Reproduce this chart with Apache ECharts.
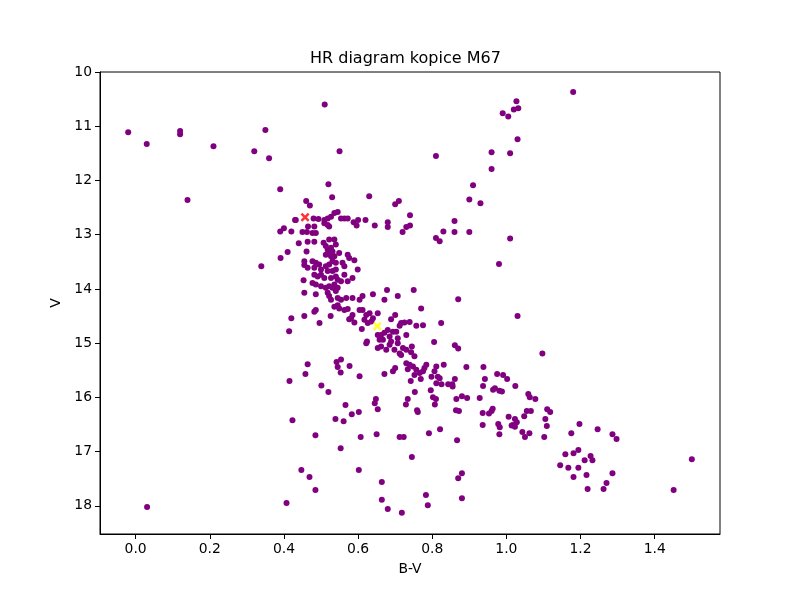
<!DOCTYPE html>
<html>
<head>
<meta charset="utf-8">
<script src="https://cdn.jsdelivr.net/npm/echarts@6/dist/echarts.min.js"></script>
<style>html,body{margin:0;padding:0;background:#fff;}#chart{width:800px;height:600px;}</style>
</head>
<body>
<div id="chart"></div>
<script>
const titleText = "HR diagram kopice M67";
const xName = "B-V";
const yName = "V";
const xTicks = [0.0, 0.2, 0.4, 0.6, 0.8, 1.0, 1.2, 1.4];
const yTicks = [10, 11, 12, 13, 14, 15, 16, 17, 18];

const bv = [
-0.02,0.03,0.12,0.12,0.21,0.35,0.32,0.36,0.39,0.14,0.43,0.40,0.39,0.42,0.44,0.41,
0.51,0.55,0.81,0.96,0.96,0.52,0.53,0.46,0.47,0.63,0.71,0.70,0.91,0.90,0.93,
0.74,0.68,0.68,0.74,0.73,0.72,0.645,0.62,0.60,0.596,0.588,0.86,0.83,0.86,0.90,0.81,0.82,
1.18,1.027,1.02,1.032,0.99,1.005,1.03,1.01,1.01,0.98,0.87,0.77,1.03,0.775,0.824,0.805,0.861,0.87,1.097,
0.432,0.48,0.493,0.509,0.518,0.527,0.536,0.545,0.509,0.518,0.522,0.554,0.563,0.572,
0.465,0.482,0.45,0.462,0.477,0.486,0.464,0.482,0.461,
0.507,0.522,0.536,0.54,0.513,0.518,0.527,0.531,0.522,0.513,0.527,0.536,0.549,0.572,0.576,0.59,
0.455,0.455,0.477,0.486,0.495,0.482,0.50,0.513,0.522,0.531,0.54,0.518,0.531,0.54,0.558,0.563,0.599,0.464,
0.482,0.491,0.50,0.509,0.527,0.54,0.545,0.554,0.563,0.572,0.585,
0.453,0.477,0.486,0.50,0.513,0.522,0.531,0.536,0.545,0.54,
0.455,0.486,0.518,0.522,0.527,0.545,0.554,0.568,0.585,0.604,0.612,0.64,
0.486,0.482,0.455,0.42,0.496,0.526,0.414,0.585,0.581,0.576,0.59,0.604,0.612,0.622,0.631,0.617,0.626,0.636,0.64,0.653,
0.61,0.624,0.622,0.554,0.653,0.658,0.545,0.536,0.549,0.563,0.572,
0.678,0.75,0.707,0.671,0.70,0.689,0.716,0.725,0.712,0.739,0.757,
0.68,0.671,0.662,0.667,0.685,0.694,0.703,0.689,0.685,0.707,0.707,0.73,0.721,0.73,0.662,0.653,0.676,0.698,0.712,0.716,
0.745,0.743,0.752,0.73,0.739,0.734,0.748,0.757,0.752,0.766,0.784,0.779,0.775,0.798,0.811,0.806,0.831,0.815,
0.892,0.70,0.694,0.671,0.938,0.861,
0.975,0.991,1.002,0.942,0.937,1.024,0.969,0.964,0.981,0.988,1.059,1.063,1.078,0.928,0.963,0.96,0.953,0.936,
1.055,1.066,1.11,1.118,1.048,1.006,1.023,1.028,1.018,1.023,1.014,1.105,1.109,0.978,0.982,0.936,1.197,1.246,
1.043,1.062,1.05,0.981,1.102,1.175,1.286,1.297,1.159,1.181,1.194,1.227,1.232,1.211,1.145,1.167,1.194,1.181,
1.216,1.286,1.27,1.219,1.262,1.451,1.50,
0.464,0.458,0.415,0.501,0.52,0.542,0.545,0.553,0.577,0.604,0.566,0.583,0.602,0.539,0.561,0.423,0.485,0.607,
0.553,0.65,0.712,0.723,0.791,0.821,0.867,0.745,0.447,0.469,0.485,0.407,0.602,0.664,0.664,0.68,0.718,0.783,
0.788,0.88,0.87,0.88,0.648,0.645,0.653,0.734,0.729,0.759,0.761,0.753,0.742,0.796,0.802,0.81,0.807,0.769,
0.865,0.88,0.894,0.864,0.872,0.811,0.825,0.843,0.854,0.855,0.82,0.391,0.339,0.031
];
const vmag = [
11.11,11.33,11.09,11.15,11.37,11.07,11.46,11.59,12.16,12.36,12.73,12.88,12.94,12.94,13.16,13.32,
10.60,11.46,11.55,11.48,11.79,12.07,12.31,12.38,12.46,12.29,12.38,12.44,12.09,12.35,12.42,
12.64,12.77,12.86,12.83,12.86,12.95,12.83,12.73,12.73,12.83,12.77,12.75,12.94,12.95,12.95,13.06,13.12,
10.37,10.54,10.69,10.67,10.76,10.82,11.24,11.50,13.07,13.54,14.19,14.36,14.50,14.67,14.63,14.98,15.04,15.10,15.19,
12.73,12.70,12.71,12.73,12.70,12.67,12.60,12.58,12.79,12.82,12.85,12.70,12.70,12.70,
12.85,12.85,12.95,12.95,12.97,12.97,13.13,13.13,13.31,
13.15,13.09,13.09,13.18,13.21,13.28,13.24,13.31,13.34,13.37,13.40,13.40,13.34,13.37,13.43,13.47,
13.49,13.56,13.49,13.52,13.55,13.61,13.64,13.58,13.55,13.49,13.52,13.67,13.67,13.64,13.52,13.58,13.64,13.61,
13.74,13.77,13.74,13.80,13.80,13.77,13.83,13.86,13.74,13.86,13.80,
13.84,13.89,13.92,13.95,13.98,13.95,13.98,13.92,13.98,14.04,
14.07,14.10,14.07,14.13,14.20,14.17,14.20,14.17,14.17,14.20,14.13,14.10,
14.39,14.42,14.50,14.54,14.63,14.50,14.78,14.48,14.54,14.56,14.62,14.39,14.39,14.48,14.45,14.57,14.63,14.60,14.54,14.45,
14.74,14.97,15.00,15.30,14.85,14.94,14.30,14.33,14.36,14.39,14.37,
14.02,14.02,14.13,14.20,14.48,14.56,14.63,14.62,14.68,14.61,14.68,
14.76,14.81,14.85,14.94,14.88,14.79,14.79,14.97,15.03,14.91,15.00,14.85,15.09,15.12,15.06,15.09,15.12,15.12,15.19,15.22,
15.06,15.17,15.24,15.37,15.40,15.48,15.43,15.49,15.59,15.55,15.40,15.46,15.52,15.62,15.43,15.52,15.40,15.62,
15.44,15.46,15.52,15.57,15.44,15.66,
15.57,15.59,15.66,15.66,15.79,15.79,15.83,15.86,15.88,15.89,15.94,16.00,16.03,16.01,16.21,16.25,16.30,16.29,
16.25,16.25,16.22,16.27,16.35,16.36,16.40,16.46,16.51,16.54,16.52,16.40,16.53,16.49,16.55,16.51,16.49,16.59,
16.64,16.66,16.73,16.68,16.73,16.66,16.68,16.77,17.05,17.03,16.97,17.08,17.16,17.16,17.25,17.30,17.30,17.47,
17.43,17.40,17.58,17.69,17.69,17.71,17.14,
15.39,15.57,15.70,15.78,15.90,15.35,15.44,15.54,15.42,15.61,16.14,16.31,16.27,16.40,16.44,16.42,16.70,16.73,
16.94,16.68,16.73,16.73,16.66,16.59,16.79,17.10,17.34,17.47,17.71,17.95,17.34,17.56,17.89,18.06,18.13,17.80,
17.99,17.40,17.49,17.86,16.03,16.11,16.22,16.03,16.13,16.24,16.27,15.90,15.70,15.87,16.00,16.03,16.13,15.66,
16.03,15.98,16.01,16.24,16.25,15.74,15.76,15.76,15.76,15.80,15.65,13.43,13.58,18.02
];
const redStar = [0.457, 12.68];
const yellowStar = [0.652, 14.69];

const xMin = -0.096, xMax = 1.576;
const yMin = 10, yMax = 18.52;

const starData = bv.map((b, i) => [b, vmag[i]]);
const xPath = 'path://M0,2L2,0L5,3L8,0L10,2L7,5L10,8L8,10L5,7L2,10L0,8L3,5Z';
const font = 'DejaVu Sans';

const chart = echarts.init(document.getElementById('chart'), null, {renderer: 'canvas'});
chart.setOption({
  animation: false,
  backgroundColor: '#ffffff',
  title: {
    text: titleText,
    left: 310, top: 51, padding: 0,
    textStyle: {fontFamily: font, fontSize: 16, fontWeight: 'normal', color: '#000'}
  },
  grid: {left: 100, right: 80, top: 72, bottom: 66, show: true, borderColor: '#000', borderWidth: 1, backgroundColor: 'transparent'},
  xAxis: {
    type: 'value', min: xMin, max: xMax,
    name: xName, nameLocation: 'middle', nameGap: 28,
    nameTextStyle: {fontFamily: font, fontSize: 13.9, color: '#000'},
    axisLine: {show: true, onZero: false, lineStyle: {color: '#000', width: 1}},
    axisTick: {show: true, inside: false, length: 5, lineStyle: {color: '#000'}, customValues: xTicks},
    axisLabel: {fontFamily: font, fontSize: 13.9, color: '#000', margin: 8, customValues: xTicks,
      formatter: v => v.toFixed(1)},
    splitLine: {show: false}
  },
  yAxis: {
    type: 'value', min: yMin, max: yMax, inverse: true,
    name: yName, nameLocation: 'middle', nameGap: 36, nameRotate: 90,
    nameTextStyle: {fontFamily: font, fontSize: 13.9, color: '#000'},
    axisLine: {show: true, onZero: false, lineStyle: {color: '#000', width: 1}},
    axisTick: {show: true, inside: false, length: 5, lineStyle: {color: '#000'}, customValues: yTicks},
    axisLabel: {fontFamily: font, fontSize: 13.9, color: '#000', margin: 8, customValues: yTicks,
      formatter: v => String(Math.round(v))},
    splitLine: {show: false}
  },
  series: [
    {
      type: 'scatter', data: starData, symbol: 'circle', symbolSize: 6,
      itemStyle: {color: '#800080', opacity: 1}, silent: true
    },
    {
      type: 'scatter', data: [redStar], symbol: xPath, symbolSize: 9,
      itemStyle: {color: '#ff0000'}, z: 5, silent: true
    },
    {
      type: 'scatter', data: [yellowStar], symbol: xPath, symbolSize: 9,
      itemStyle: {color: '#ffff00'}, z: 5, silent: true
    }
  ]
});
</script>
</body>
</html>
